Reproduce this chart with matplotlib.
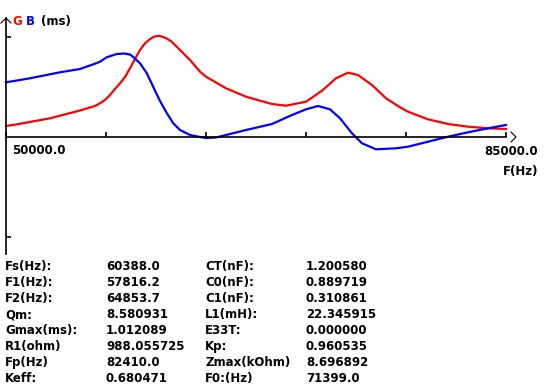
import matplotlib
matplotlib.use('Agg')
import matplotlib.pyplot as plt

# 频率扫描数据 (Hz), G / B (ms)
freq_g = [50000, 50700, 53080, 55180, 56230, 56580, 56930, 57280, 57630, 57980,
          58330, 58680, 59030, 59380, 59730, 60080, 60400, 60700, 61000, 61250,
          61600, 62180, 62880, 63580, 64000, 65400, 66800, 67780, 68620, 69600,
          71000, 72120, 73100, 73940, 74640, 75620, 76600, 77580, 78140, 79540,
          80940, 82340, 83740, 85000]
g_vals = [0.11, 0.125, 0.187, 0.265, 0.31, 0.337, 0.37, 0.42, 0.48, 0.537,
          0.60, 0.687, 0.78, 0.87, 0.937, 0.98, 1.005, 1.012, 1.0, 0.985,
          0.953, 0.87, 0.77, 0.653, 0.603, 0.487, 0.403, 0.363, 0.33, 0.313,
          0.353, 0.463, 0.587, 0.643, 0.62, 0.52, 0.387, 0.297, 0.253, 0.177,
          0.13, 0.103, 0.087, 0.08]

freq_b = [50000, 51680, 53780, 55180, 56300, 56580, 57050, 57750, 58260, 58680,
          58910, 59380, 59850, 60310, 60780, 61250, 61710, 62180, 62880, 63580,
          64000, 64700, 65400, 66800, 68620, 70020, 71000, 71840, 72680, 73380,
          74220, 74920, 75900, 77300, 78140, 79540, 80940, 82340, 83740, 85000]
b_vals = [0.547, 0.587, 0.647, 0.68, 0.737, 0.753, 0.797, 0.83, 0.835, 0.825,
          0.80, 0.737, 0.64, 0.50, 0.36, 0.24, 0.137, 0.07, 0.02, 0.0,
          -0.01, -0.005, 0.02, 0.07, 0.13, 0.22, 0.277, 0.31, 0.277, 0.187,
          0.037, -0.063, -0.123, -0.113, -0.097, -0.047, 0.003, 0.047, 0.087, 0.12]

x_ticks = [50000, 57000, 64000, 71000, 78000, 85000]
y_ticks = [1.0, -1.0]

# 参数表
labels_1 = ['Fs(Hz):', 'F1(Hz):', 'F2(Hz):', 'Qm:', 'Gmax(ms):', 'R1(ohm)', 'Fp(Hz)', 'Keff:']
values_1 = ['60388.0', '57816.2', '64853.7', '8.580931', '1.012089', '988.055725', '82410.0', '0.680471']
labels_2 = ['CT(nF):', 'C0(nF):', 'C1(nF):', 'L1(mH):', 'E33T:', 'Kp:', 'Zmax(kOhm)', 'F0:(Hz)']
values_2 = ['1.200580', '0.889719', '0.310861', '22.345915', '0.000000', '0.960535', '8.696892', '71399.0']

W, H = 544, 387
fig = plt.figure(figsize=(W / 100, H / 100), dpi=100)
ax = fig.add_axes([0, 0, 1, 1])
# 像素 -> 数据: x = 50000 + (px-6)*70, y = (137-py)/100
ax.set_xlim(50000 - 6 * 70, 50000 + (W - 6) * 70)
ax.set_ylim((137 - H) / 100, 137 / 100)
ax.axis('off')

ax.plot(freq_g, g_vals, color='#ff0000', lw=1.6, solid_joinstyle='round')
ax.plot(freq_b, b_vals, color='#0000ff', lw=1.6, solid_joinstyle='round')

# 坐标轴
ax.plot([50000, 85000], [0, 0], color='black', lw=1.2)
ax.plot([50000, 50000], [1.19, -1.17], color='black', lw=1.2)
ax.vlines(x_ticks, 0, 0.05, color='black', lw=1.2)
ax.hlines(y_ticks, 50000, 50000 + 5 * 70, color='black', lw=1.2)
# 箭头
ax.plot([50000 - 5 * 70, 50000, 50000 + 5 * 70], [1.14, 1.19, 1.14], color='black', lw=0.8)
ax.plot([85000 + 5 * 70, 85000 + 10 * 70, 85000 + 5 * 70], [0.05, 0, -0.05], color='black', lw=0.8)

font = dict(family='DejaVu Sans', weight='bold', size=8.5)

def px_text(x, y, s, ha='left', **kw):
    ax.text(x / W, 1 - y / H, s, transform=ax.transAxes, ha=ha, va='baseline', **font, **kw)

px_text(12, 25, 'G', color='#ff0000')
px_text(26, 25, 'B', color='#0000ff')
px_text(41, 25, '(ms)', color='black')
px_text(12, 154, '50000.0')
px_text(538, 155, '85000.0', ha='right')
px_text(538, 175, 'F(Hz)', ha='right')

for i in range(len(labels_1)):
    y = 270 + 16.0 * i
    px_text(5, y, labels_1[i])
    px_text(106, y, values_1[i])
    px_text(205, y, labels_2[i])
    px_text(306, y, values_2[i])

fig.savefig('out.png', dpi=100, facecolor='white')
